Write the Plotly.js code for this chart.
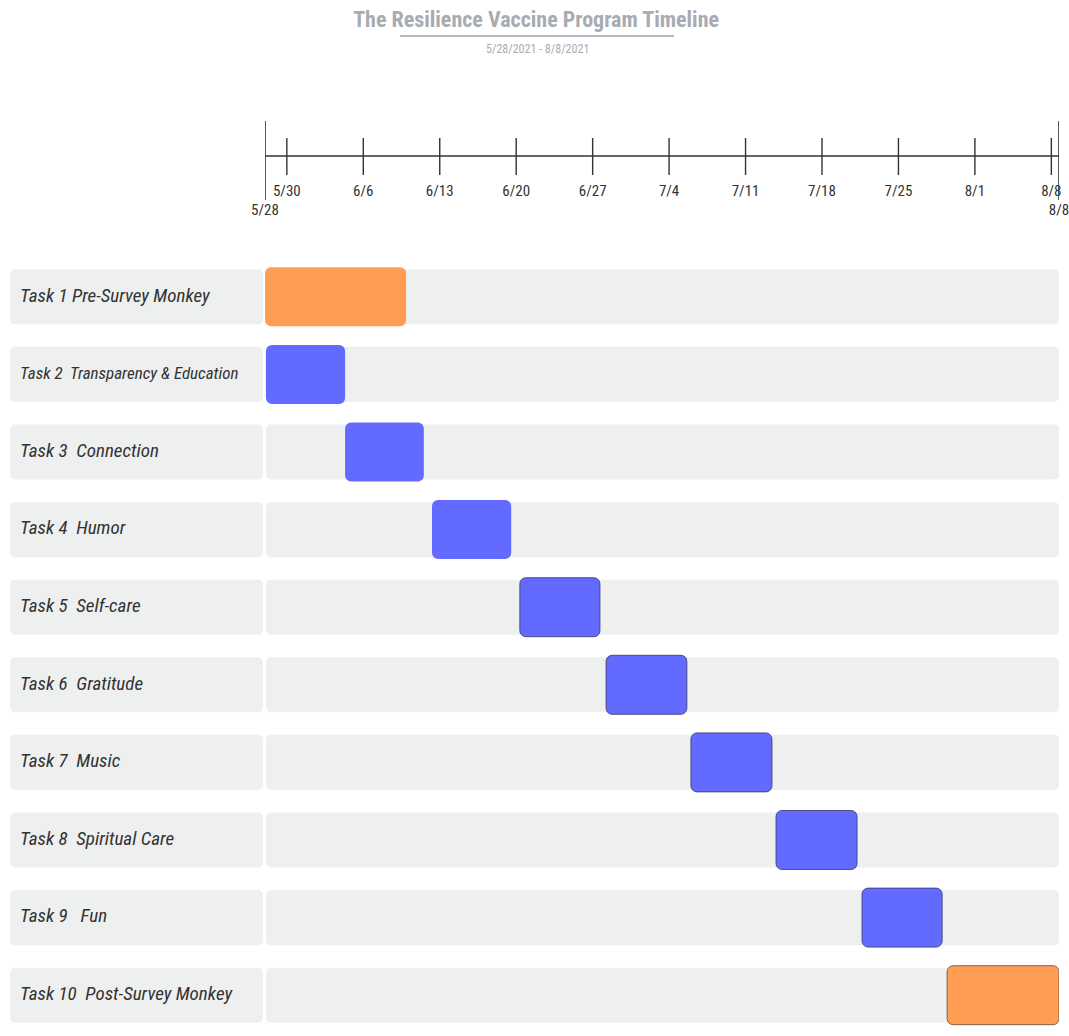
<!DOCTYPE html>
<html>
<head>
<meta charset="utf-8">
<script src="https://cdn.plot.ly/plotly-3.0.1.min.js"></script>
<style>
  html, body { margin: 0; padding: 0; background: #ffffff; }
  #chart { width: 1069px; height: 1036px; }
</style>
</head>
<body>
<div id="chart"></div>
<script>
// Program window
const programStart = '2021-05-28 00:00';
const programEnd = '2021-08-08 16:48';

// Tasks, top to bottom
const taskLabels = [
  'Task 1 Pre-Survey Monkey',
  'Task 2\u00a0 Transparency & Education',
  'Task 3\u00a0 Connection',
  'Task 4\u00a0 Humor',
  'Task 5\u00a0 Self-care',
  'Task 6\u00a0 Gratitude',
  'Task 7\u00a0 Music',
  'Task 8\u00a0 Spiritual Care',
  'Task 9\u00a0\u00a0 Fun',
  'Task 10\u00a0 Post-Survey Monkey'
];
const taskStart = [
  '2021-05-28 00:00', '2021-05-28 02:00', '2021-06-04 08:00', '2021-06-12 07:00',
  '2021-06-20 08:00', '2021-06-28 05:30', '2021-07-06 00:00', '2021-07-13 19:00',
  '2021-07-21 16:00', '2021-07-29 11:00'
];
const taskEnd = [
  '2021-06-09 22:00', '2021-06-04 08:00', '2021-06-11 13:00', '2021-06-19 13:00',
  '2021-06-27 16:00', '2021-07-05 15:00', '2021-07-13 10:00', '2021-07-21 05:00',
  '2021-07-29 00:00', '2021-08-08 16:48'
];
const taskKind = ['survey', 'task', 'task', 'task', 'task', 'task', 'task', 'task', 'task', 'survey'];

// Weekly ticks on the timeline
const weekTicks = ['2021-05-30', '2021-06-06', '2021-06-13', '2021-06-20', '2021-06-27',
  '2021-07-04', '2021-07-11', '2021-07-18', '2021-07-25', '2021-08-01', '2021-08-08'];
const weekTickLabels = ['5/30', '6/6', '6/13', '6/20', '6/27', '7/4', '7/11', '7/18', '7/25', '8/1', '8/8'];
const endLabels = ['5/28', '8/8'];

const FONT = '"Liberation Sans Narrow", "Arial Narrow", "Roboto Condensed", "Liberation Sans", sans-serif';
const kindColor = { survey: '#ff9d55', task: '#636aff' };
const kindLine = { survey: 'rgba(110,80,60,0.85)', task: 'rgba(60,60,110,0.85)' };

const toMs = s => Date.parse(s.replace(' ', 'T') + ':00Z');
const spanMs = (a, b) => toMs(b) - toMs(a);

const traces = [];

// Row label panels
traces.push({
  type: 'bar', orientation: 'h', xaxis: 'x2', yaxis: 'y',
  y: taskLabels, x: taskLabels.map(() => 1), base: taskLabels.map(() => 0),
  width: 0.71,
  marker: { color: '#eeefef', cornerradius: 5, line: { width: 0 } },
  hoverinfo: 'skip', showlegend: false
});
// Row labels
traces.push({
  type: 'scatter', mode: 'text', xaxis: 'x2', yaxis: 'y',
  y: taskLabels, x: taskLabels.map(() => 0.04),
  text: taskLabels, textposition: 'middle right',
  textfont: {
    family: FONT, color: '#333333', style: 'italic',
    size: taskLabels.map(t => (t.length > 28 ? 17 : 19))
  },
  cliponaxis: false, hoverinfo: 'skip', showlegend: false
});
// Row background bands across the whole program window
traces.push({
  type: 'bar', orientation: 'h', xaxis: 'x', yaxis: 'y',
  y: taskLabels,
  base: taskLabels.map(() => '2021-05-28 02:00'),
  x: taskLabels.map(() => spanMs('2021-05-28 02:00', programEnd)),
  width: 0.71,
  marker: { color: '#eeefef', cornerradius: 5, line: { width: 0 } },
  hoverinfo: 'skip', showlegend: false
});
// Task bars
traces.push({
  type: 'bar', orientation: 'h', xaxis: 'x', yaxis: 'y',
  y: taskLabels,
  base: taskStart,
  x: taskStart.map((s, i) => spanMs(s, taskEnd[i])),
  width: 0.76,
  marker: {
    color: taskKind.map(k => kindColor[k]),
    cornerradius: 6,
    line: { color: taskKind.map(k => kindLine[k]), width: taskKind.map((k, i) => (i >= 4 ? 1 : 0)) }
  },
  hoverinfo: 'skip', showlegend: false
});

// Timeline: main axis line
traces.push({
  type: 'scatter', mode: 'lines', xaxis: 'x', yaxis: 'y2',
  x: [programStart, programEnd], y: [64, 64],
  line: { color: '#333333', width: 1.6 },
  hoverinfo: 'skip', showlegend: false, cliponaxis: false
});
// Weekly tick marks
const tx = [], ty = [];
weekTicks.forEach(d => { tx.push(d, d, null); ty.push(82, 45, null); });
traces.push({
  type: 'scatter', mode: 'lines', xaxis: 'x', yaxis: 'y2',
  x: tx, y: ty, line: { color: '#333333', width: 1.4 },
  hoverinfo: 'skip', showlegend: false, cliponaxis: false
});
// Start / end markers
traces.push({
  type: 'scatter', mode: 'lines', xaxis: 'x', yaxis: 'y2',
  x: [programStart, programStart, null, programEnd, programEnd],
  y: [99, 20, null, 99, 20],
  line: { color: '#333333', width: 1.6 },
  hoverinfo: 'skip', showlegend: false, cliponaxis: false
});
// Weekly tick labels
traces.push({
  type: 'scatter', mode: 'text', xaxis: 'x', yaxis: 'y2',
  x: weekTicks, y: weekTicks.map(() => 28), text: weekTickLabels,
  textposition: 'middle center',
  textfont: { family: FONT, size: 15, color: '#333333' },
  hoverinfo: 'skip', showlegend: false, cliponaxis: false
});
// Start / end labels
traces.push({
  type: 'scatter', mode: 'text', xaxis: 'x', yaxis: 'y2',
  x: [programStart, programEnd], y: [9, 9], text: endLabels,
  textposition: 'middle center',
  textfont: { family: FONT, size: 15, color: '#333333' },
  hoverinfo: 'skip', showlegend: false, cliponaxis: false
});

const W = 1069, H = 1036;
const px = v => v / W, py = v => 1 - v / H;

const layout = {
  width: W, height: H,
  margin: { l: 0, r: 0, t: 0, b: 0, pad: 0 },
  paper_bgcolor: '#ffffff', plot_bgcolor: 'rgba(0,0,0,0)',
  barmode: 'overlay',
  showlegend: false,
  title: {
    text: 'The Resilience Vaccine Program Timeline',
    x: 0.5015, xanchor: 'center', xref: 'paper',
    y: py(19), yanchor: 'middle', yref: 'container',
    font: { family: FONT, size: 22, color: '#a8abb2', weight: 700 }
  },
  xaxis: {
    type: 'date', domain: [px(265), px(1059)],
    range: [programStart, programEnd],
    visible: false, anchor: 'y', fixedrange: true
  },
  xaxis2: {
    domain: [px(10), px(263)], range: [0, 1],
    visible: false, anchor: 'y', fixedrange: true
  },
  yaxis: {
    type: 'category', domain: [py(1034), py(258)],
    range: [taskLabels.length - 0.5, -0.5],
    visible: false, anchor: 'x', fixedrange: true
  },
  yaxis2: {
    domain: [py(220), py(120)], range: [0, 100],
    visible: false, anchor: 'x', fixedrange: true
  },
  shapes: [
    { type: 'line', xref: 'paper', yref: 'paper', x0: px(400), x1: px(674), y0: py(36), y1: py(36),
      line: { color: '#b4b7bd', width: 2 } }
  ],
  annotations: [
    { text: '5/28/2021 - 8/8/2021', xref: 'paper', yref: 'paper', x: px(537), y: py(49),
      xanchor: 'center', yanchor: 'middle', showarrow: false,
      font: { family: FONT, size: 12, color: '#a8abb2' } }
  ]
};

Plotly.newPlot('chart', traces, layout, { staticPlot: true, displayModeBar: false });
</script>
</body>
</html>
